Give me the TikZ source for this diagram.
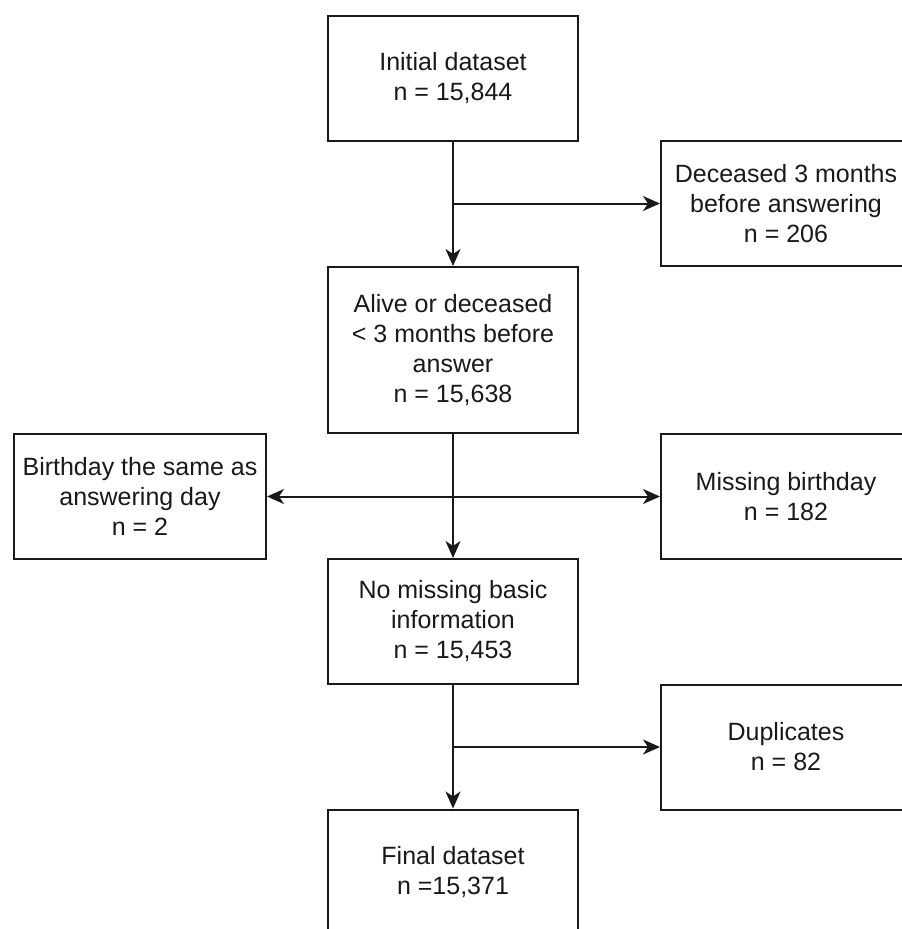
\documentclass[tikz,border=0pt]{standalone}
\usepackage{fontspec}
\setmainfont{Liberation Sans}
\usetikzlibrary{arrows.meta}
\begin{document}
\begin{tikzpicture}[x=1pt,y=-1pt,
  box/.style={draw=black!90,line width=2pt,minimum width=250pt,minimum height=125pt,inner sep=0pt,align=center,font=\fontsize{25}{30}\selectfont,text=black!90},
  arr/.style={draw=black!90,line width=2pt,-{Stealth[length=17pt,width=15pt,inset=5pt]}}]
\useasboundingbox (0,0) rectangle (902,929);
\clip (0,0) rectangle (902,929);
\node[box] (A) at (453,78) {Initial dataset\\n = 15,844};
\node[box,minimum height=166pt] (C) at (453,350) {Alive or deceased\\\textless{} 3 months before\\answer\\n = 15,638};
\node[box] (B) at (786,203.5) {Deceased 3 months\\before answering\\n = 206};
\node[box,minimum width=252pt] (D) at (140,496.5) {Birthday the same as\\answering day\\n = 2};
\node[box] (E) at (786,496.5) {Missing birthday\\n = 182};
\node[box] (F) at (453,621.5) {No missing basic\\information\\n = 15,453};
\node[box] (G) at (786,747) {Duplicates\\n = 82};
\node[box] (H) at (453,872) {Final dataset\\n =15,371};
\coordinate (j1) at (A.south |- B.west);
\coordinate (j2) at (C.south |- E.west);
\coordinate (j3) at (F.south |- G.west);
\draw[arr] (A.south) -- (C.north);
\draw[arr] (j1) -- (B.west);
\draw[arr] (C.south) -- (F.north);
\draw[arr] (j2) -- (E.west);
\draw[arr] (j2) -- (D.east);
\draw[arr] (F.south) -- (H.north);
\draw[arr] (j3) -- (G.west);
\end{tikzpicture}
\end{document}
